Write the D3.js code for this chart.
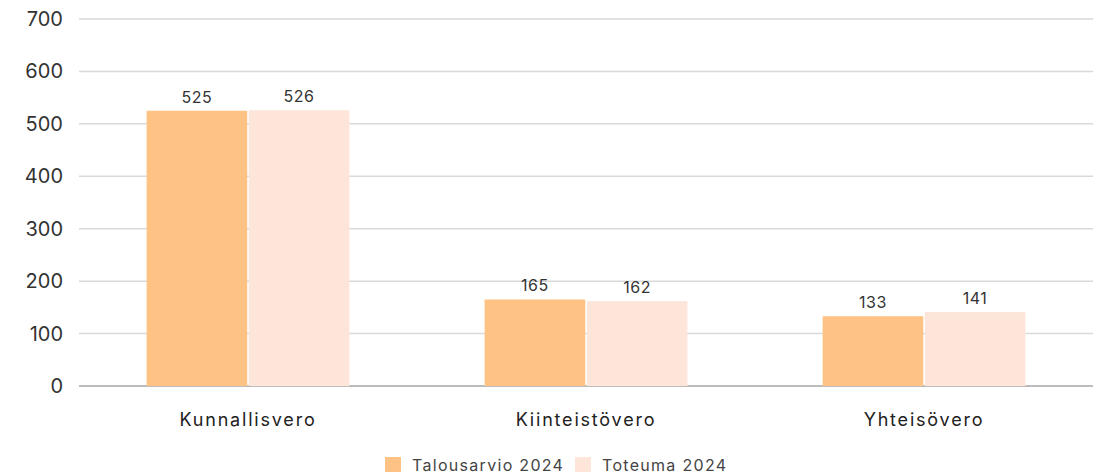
<!DOCTYPE html>
<html>
<head>
<meta charset="utf-8">
<script src="https://cdn.jsdelivr.net/npm/d3@7"></script>
<style>
  body { margin: 0; background: #fff; }
  svg { display: block; font-family: "Inter", "Roboto", sans-serif; }
</style>
</head>
<body>
<svg id="chart" width="1096" height="476"></svg>
<script>
// data
const categories = ["Kunnallisvero", "Kiinteistövero", "Yhteisövero"];
const seriesNames = ["Talousarvio 2024", "Toteuma 2024"];
const budget = [525, 165, 133];
const actual = [526, 162, 141];
const yTicks = [0, 100, 200, 300, 400, 500, 600, 700];

const colors = ["#FFC285", "#FDE5DA"];

const svg = d3.select("#chart");
const margin = { top: 19, right: 3, bottom: 90, left: 79 };
const width = 1096 - margin.left - margin.right;
const height = 476 - margin.top - margin.bottom;

const g = svg.append("g").attr("transform", `translate(${margin.left},${margin.top})`);

const x0 = d3.scaleBand().domain(categories).range([0, width]).paddingInner(0.4).paddingOuter(0.2);
const x1 = d3.scaleBand().domain(seriesNames).range([0, x0.bandwidth()]).paddingInner(0.015);
const y = d3.scaleLinear().domain([0, 700]).range([height, 0]);

// grid
g.selectAll("line.grid")
  .data(yTicks)
  .join("line")
  .attr("class", "grid")
  .attr("x1", 0).attr("x2", width)
  .attr("y1", d => y(d)).attr("y2", d => y(d))
  .attr("stroke", d => d === 0 ? "#a6a6a6" : "#d9d9d9")
  .attr("stroke-width", 1.5);

// y labels
g.selectAll("text.ytick")
  .data(yTicks)
  .join("text")
  .attr("class", "ytick")
  .attr("x", -16)
  .attr("y", d => y(d))
  .attr("dy", "0.35em")
  .attr("text-anchor", "end")
  .attr("fill", "#333")
  .style("font-size", "20px")
  .text(d => d);

const rows = categories.map((c, i) => ({ cat: c, vals: [budget[i], actual[i]] }));

const groups = g.selectAll("g.grp")
  .data(rows)
  .join("g")
  .attr("class", "grp")
  .attr("transform", d => `translate(${x0(d.cat)},0)`);

groups.selectAll("rect")
  .data(d => d.vals.map((v, j) => ({ s: seriesNames[j], v: v, j: j })))
  .join("rect")
  .attr("x", d => x1(d.s))
  .attr("y", d => y(d.v))
  .attr("width", x1.bandwidth())
  .attr("height", d => height - y(d.v))
  .attr("fill", d => colors[d.j]);

groups.selectAll("text.val")
  .data(d => d.vals.map((v, j) => ({ s: seriesNames[j], v: v })))
  .join("text")
  .attr("class", "val")
  .attr("x", d => x1(d.s) + x1.bandwidth() / 2)
  .attr("y", d => y(d.v) - 8)
  .attr("text-anchor", "middle")
  .attr("fill", "#333")
  .style("font-size", "16px")
  .style("letter-spacing", "0.5px")
  .text(d => d.v);

// x labels
g.selectAll("text.xlab")
  .data(categories)
  .join("text")
  .attr("class", "xlab")
  .attr("x", d => x0(d) + x0.bandwidth() / 2)
  .attr("y", height + 40)
  .attr("text-anchor", "middle")
  .attr("fill", "#222")
  .style("font-size", "18px")
  .style("letter-spacing", "1.8px")
  .text(d => d);

// legend
const legend = svg.append("g").attr("transform", "translate(385,457)");
const item = legend.selectAll("g")
  .data(seriesNames)
  .join("g")
  .attr("transform", (d, i) => `translate(${i * 190},0)`);
item.append("rect")
  .attr("width", 16).attr("height", 15)
  .attr("fill", (d, i) => colors[i]);
item.append("text")
  .attr("x", 27).attr("y", 8)
  .attr("dy", "0.35em")
  .attr("fill", "#444")
  .style("font-size", "16px")
  .style("letter-spacing", "1.3px")
  .text(d => d);
</script>
</body>
</html>
